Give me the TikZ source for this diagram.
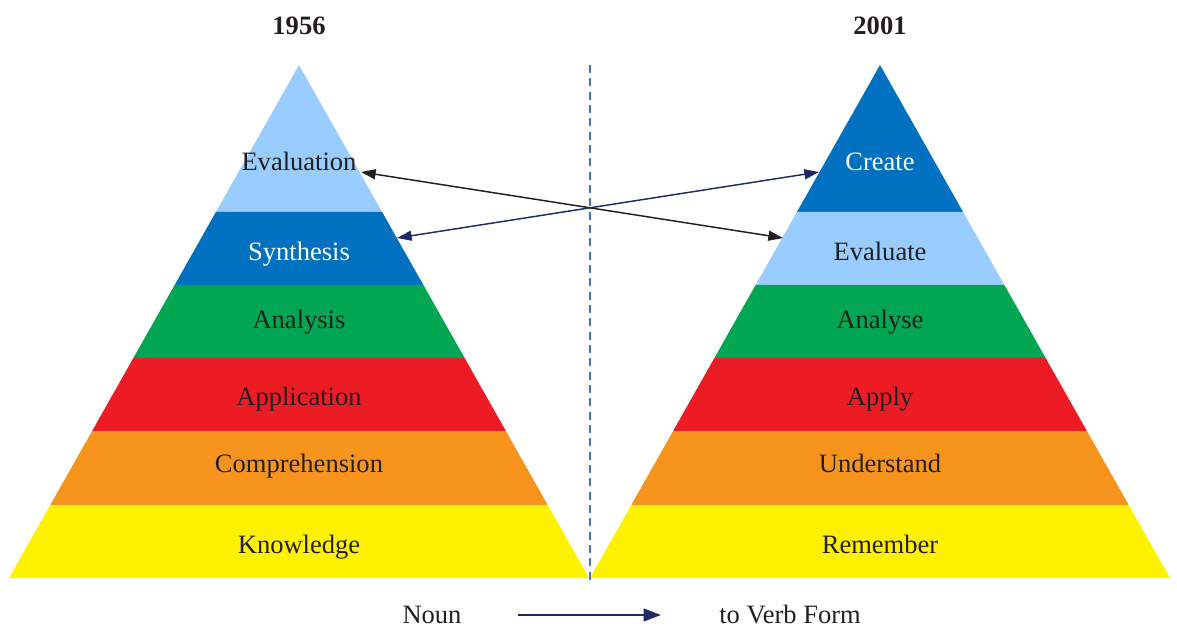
\documentclass[tikz,border=0pt]{standalone}
\usepackage{fontspec}
\setmainfont{Liberation Serif}
\usepackage{tikz}
\usetikzlibrary{calc}
\usetikzlibrary{arrows.meta}
\usetikzlibrary{positioning}
\definecolor{mylightblue}{RGB}{153,204,255}
\definecolor{mydarkblue}{RGB}{0,112,192}
\definecolor{mygreen}{RGB}{0,166,81}
\definecolor{myred}{RGB}{237,28,36}
\definecolor{myorange}{RGB}{247,148,29}
\definecolor{myyellow}{RGB}{255,242,0}
\definecolor{mynavy}{RGB}{32,42,104}
\definecolor{mydash}{RGB}{68,114,196}
\definecolor{mytext}{RGB}{35,31,32}
\tikzset{
  layerlabel/.style={anchor=base, inner sep=0pt, text=#1, font=\fontsize{19.9}{24}\selectfont},
  layerlabel/.default=mytext,
  bloomlink/.style={draw=#1, line width=1.1pt, {Triangle[length=11pt,width=7.5pt]}-{Triangle[length=11pt,width=7.5pt]}}
}
% one band of a pyramid: centre x, top y, bottom y, colour
\newcommand\bloomlayer[4]{\fill[#4] ({#1-(#2-65)/513*290},#2) -- ({#1+(#2-65)/513*290},#2) -- ({#1+(#3-65)/513*290},#3) -- ({#1-(#3-65)/513*290},#3) -- cycle;}

\begin{document}
\begin{tikzpicture}[x=0.75pt, y=-0.75pt]
\useasboundingbox (0,0) rectangle (1177,634);
% 1956
\bloomlayer{299}{65}{212}{mylightblue}
\bloomlayer{299}{212}{285}{mydarkblue}
\bloomlayer{299}{285}{358}{mygreen}
\bloomlayer{299}{358}{431}{myred}
\bloomlayer{299}{431}{505}{myorange}
\bloomlayer{299}{505}{578}{myyellow}
% 2001
\bloomlayer{880}{65}{212}{mydarkblue}
\bloomlayer{880}{212}{285}{mylightblue}
\bloomlayer{880}{285}{358}{mygreen}
\bloomlayer{880}{358}{431}{myred}
\bloomlayer{880}{431}{505}{myorange}
\bloomlayer{880}{505}{578}{myyellow}
\draw[mydash, line width=1.3pt, dash pattern=on 6pt off 4pt] (590,65) -- (590,580);

\node[layerlabel, font=\fontsize{19.9}{24}\selectfont\bfseries] (oldyear) at (299,35) {1956};
\node[layerlabel, font=\fontsize{19.9}{24}\selectfont\bfseries] (newyear) at (880,35) {2001};

\node[layerlabel]       (evaluation)    at (299,171) {Evaluation};
\node[layerlabel=white] (synthesis)     at (299,261) {Synthesis};
\node[layerlabel]       (analysis)      at (299,329) {Analysis};
\node[layerlabel]       (application)   at (299,405) {Application};
\node[layerlabel]       (comprehension) at (299,472) {Comprehension};
\node[layerlabel]       (knowledge)     at (299,553) {Knowledge};

\node[layerlabel=white] (create)     at (880,171) {Create};
\node[layerlabel]       (evaluate)   at (880,261) {Evaluate};
\node[layerlabel]       (analyse)    at (880,329) {Analyse};
\node[layerlabel]       (apply)      at (880,405) {Apply};
\node[layerlabel]       (understand) at (880,472) {Understand};
\node[layerlabel]       (remember)   at (880,553) {Remember};

\coordinate (evaluationtip) at (361,172);
\coordinate (synthesistip)  at (397,238);
\coordinate (createtip)     at (819,172);
\coordinate (evaluatetip)   at (783,238);
\draw[bloomlink=mytext] (evaluationtip) -- (evaluatetip);
\draw[bloomlink=mynavy] (synthesistip) -- (createtip);

% legend
\node[layerlabel] (noun)     at (432,623) {Noun};
\node[layerlabel] (verbform) at (790,623) {to Verb Form};
\coordinate (legendstart) at (518,615);
\coordinate (legendend)   at (661,615);
\draw[mynavy, line width=1.6pt, -{Triangle[length=13pt,width=9.5pt]}] (legendstart) -- (legendend);
\end{tikzpicture}
\end{document}
